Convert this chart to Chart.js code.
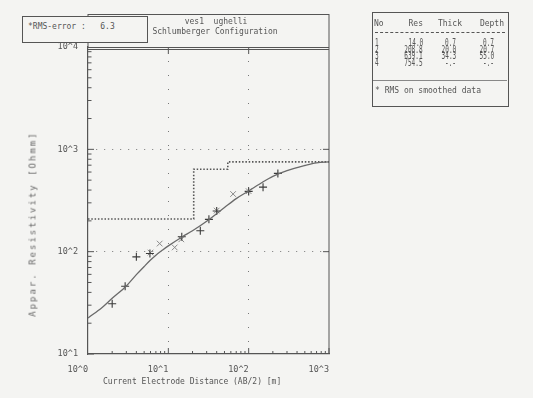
<!DOCTYPE html>
<html>
<head>
<meta charset="utf-8">
<script src="https://cdn.jsdelivr.net/npm/chart.js@4"></script>
<style>
body { margin: 0; background: #f4f4f2; }
#wrap { position: relative; width: 533px; height: 398px; }
.t { position: absolute; font-family: "DejaVu Sans Mono", monospace; color: #555; white-space: pre; line-height: 1; }
</style>
</head>
<body>
<div id="wrap"><canvas id="c" width="533" height="398"></canvas></div>
<script>
// layer model (table + dotted step line)
var layerNo = [1, 2, 3, 4];
var layerRes = [14.0, 208.8, 639.1, 754.5];
var layerThick = [0.7, 20.0, 34.3];
var layerDepth = [0.7, 20.7, 55.0];

// calculated curve
var curveX = [1, 1.5, 2, 3, 4, 5, 6, 7, 8.5, 10, 15, 20, 30, 50, 70, 100, 150, 200, 300, 500, 700, 1000];
var curveY = [22.5, 28.5, 35, 46.2, 59.6, 71.6, 82.8, 92.5, 104, 114, 140, 160, 198, 270, 330, 392, 480, 545, 620, 695, 738, 754];

// field data (+) and smoothed data (x)
var fieldX = [2, 2.9, 4, 5.9, 14.7, 25, 32, 40, 100, 151, 231];
var fieldY = [31, 46, 89, 96, 140, 160, 207, 250, 388, 427, 582];
var smoothX = [6, 7.8, 12, 14.5, 40, 64, 100];
var smoothY = [98, 120, 110, 132, 252, 366, 390];

var xTicks = [1, 10, 100, 1000];
var yTicks = [10, 100, 1000, 10000];

var rmsError = "6.3";
var title1 = "ves1  ughelli";
var title2 = "Schlumberger Configuration";

function pts(xs, ys) {
    return xs.map(function (v, i) { return { x: v, y: ys[i] }; });
}

// step points of the model inside the plotted range
var stepPts = [];
for (var i = 0; i < layerRes.length; i++) {
    var layerTop = i === 0 ? 0 : layerDepth[i - 1];
    var layerBot = i < layerDepth.length ? layerDepth[i] : 1e9;
    if (layerBot <= 1) continue;
    stepPts.push({ x: Math.max(1, layerTop), y: layerRes[i] });
}
stepPts.push({ x: 1000, y: layerRes[layerRes.length - 1] });

function isPow10(v) {
    var l = Math.log10(v);
    return Math.abs(l - Math.round(l)) < 1e-9;
}
function label(v) {
    return isPow10(v) ? "10^" + Math.round(Math.log10(v)) : "";
}

var ink = "#555";

var frame = {
    id: "frame",
    afterDraw: function (chart) {
        var ctx = chart.ctx, a = chart.chartArea;
        var x = chart.scales.x, y = chart.scales.y;
        ctx.save();
        ctx.strokeStyle = ink;
        ctx.lineWidth = 1;
        ctx.beginPath();
        // header frame
        ctx.moveTo(a.left, 14.5); ctx.lineTo(a.right, 14.5);
        ctx.moveTo(a.left, 14); ctx.lineTo(a.left, a.top);
        ctx.moveTo(a.right, 14); ctx.lineTo(a.right, a.bottom);
        // double top line
        ctx.moveTo(a.left, a.top + 2.5); ctx.lineTo(a.right, a.top + 2.5);
        ctx.moveTo(a.left, a.top + 0.5); ctx.lineTo(a.right, a.top + 0.5);
        var d, m, p;
        for (d = 1; d < 1000; d *= 10) {
            for (m = 2; m <= 10; m++) {
                p = x.getPixelForValue(d * m);
                ctx.moveTo(p, a.bottom); ctx.lineTo(p, a.bottom - (m === 10 ? 6 : 3));
            }
        }
        for (d = 10; d < 10000; d *= 10) {
            for (m = 1; m <= 9; m++) {
                p = y.getPixelForValue(d * m);
                ctx.moveTo(a.left, p); ctx.lineTo(a.left + (m === 1 ? 6 : 3.5), p);
            }
        }
        [10, 100].forEach(function (v) {
            p = x.getPixelForValue(v);
            ctx.moveTo(p, a.top); ctx.lineTo(p, a.top + 7);
        });
        [100, 1000].forEach(function (v) {
            p = y.getPixelForValue(v);
            ctx.moveTo(a.right, p); ctx.lineTo(a.right - 6, p);
        });
        ctx.stroke();
        ctx.restore();
    }
};

new Chart(document.getElementById("c"), {
    type: "scatter",
    data: {
        datasets: [
            {
                data: pts(curveX, curveY),
                showLine: true,
                borderColor: "#6a6a6a",
                borderWidth: 1.3,
                pointRadius: 0,
                cubicInterpolationMode: "monotone"
            },
            {
                data: stepPts,
                showLine: true,
                stepped: "before",
                borderColor: "#555",
                borderWidth: 1.6,
                borderDash: [1.5, 1.8],
                pointRadius: 0
            },
            {
                data: pts(fieldX, fieldY),
                pointStyle: "cross",
                pointRadius: 4,
                borderColor: "#3a3a3a",
                borderWidth: 1.1
            },
            {
                data: pts(smoothX, smoothY),
                pointStyle: "crossRot",
                pointRadius: 4,
                borderColor: "#8a8a8a",
                borderWidth: 1
            }
        ]
    },
    options: {
        responsive: false,
        animation: false,
        layout: { padding: { left: 0, top: 47, right: 204, bottom: 0 } },
        plugins: { legend: { display: false }, tooltip: { enabled: false } },
        scales: {
            x: {
                type: "logarithmic",
                min: 1,
                max: 1000,
                afterFit: function (s) { s.height = 44; },
                afterBuildTicks: function (s) { s.ticks = xTicks.map(function (v) { return { value: v }; }); },
                ticks: {
                    callback: label, autoSkip: false, maxRotation: 0, align: "end", padding: 11,
                    color: ink, font: { family: "DejaVu Sans Mono", size: 8.5 }
                },
                grid: {
                    drawTicks: false,
                    color: function (c) { return (c.tick && (c.tick.value === 1 || c.tick.value === 1000)) ? "rgba(0,0,0,0)" : "#777"; }
                },
                border: { display: true, color: ink, width: 1.2, dash: [1, 13] }
            },
            y: {
                type: "logarithmic",
                min: 10,
                max: 10000,
                afterFit: function (s) { s.width = 88; },
                afterBuildTicks: function (s) { s.ticks = yTicks.map(function (v) { return { value: v }; }); },
                ticks: {
                    callback: label, autoSkip: false, padding: 10,
                    color: ink, font: { family: "DejaVu Sans Mono", size: 8.5 }
                },
                grid: {
                    drawTicks: false,
                    color: function (c) { return (c.tick && (c.tick.value === 10 || c.tick.value === 10000)) ? "rgba(0,0,0,0)" : "#777"; }
                },
                border: { display: true, color: ink, width: 1.2, dash: [1, 7] }
            }
        }
    },
    plugins: [frame]
});

// text overlays
var wrap = document.getElementById("wrap");
function txt(s, css) {
    var d = document.createElement("div");
    d.className = "t";
    d.textContent = s;
    d.style.cssText = css;
    wrap.appendChild(d);
    return d;
}

// RMS box and header
txt("*RMS-error :   " + rmsError,
    "left:22px;top:16px;width:119px;height:19px;padding:6px 0 0 5px;border:1px solid #555;background:#f4f4f2;font-size:8px;");
txt(title1, "left:216px;top:18px;transform:translateX(-50%);font-size:8px;");
txt(title2, "left:215px;top:28px;transform:translateX(-50%);font-size:8px;");

// axis titles
txt("Current Electrode Distance (AB/2) [m]", "left:103px;top:378px;font-size:8px;");
txt("Appar. Resistivity [Ohmm]",
    "left:33px;top:224px;transform:translate(-50%,-50%) rotate(-90deg);font-size:9px;letter-spacing:2px;color:#666;");

// layer table
txt("", "left:372px;top:12px;width:135px;height:93px;border:1px solid #555;");
txt("No", "left:374px;top:20px;font-size:8px;");
txt("Res", "right:" + (533 - 423) + "px;top:20px;font-size:8px;");
txt("Thick", "right:" + (533 - 462) + "px;top:20px;font-size:8px;");
txt("Depth", "right:" + (533 - 504) + "px;top:20px;font-size:8px;");
txt("", "left:375px;top:32px;width:130px;border-top:1px dashed #555;");
var rowTop = [37, 43.5, 50, 56.5];
layerNo.forEach(function (n, i) {
    var cs = "top:" + rowTop[i] + "px;font-size:10.5px;transform:scaleX(0.58);transform-origin:right center;";
    txt(String(n), "left:375px;" + cs + "transform-origin:left center;");
    txt(layerRes[i].toFixed(1), "right:" + (533 - 423) + "px;" + cs);
    txt(i < layerThick.length ? layerThick[i].toFixed(1) : "-.-", "right:" + (533 - 456) + "px;" + cs);
    txt(i < layerDepth.length ? layerDepth[i].toFixed(1) : "-.-", "right:" + (533 - 494) + "px;" + cs);
});
txt("", "left:373px;top:80px;width:134px;border-top:1px solid #888;");
txt("* RMS on smoothed data", "left:375px;top:87px;font-size:8px;");
</script>
</body>
</html>
